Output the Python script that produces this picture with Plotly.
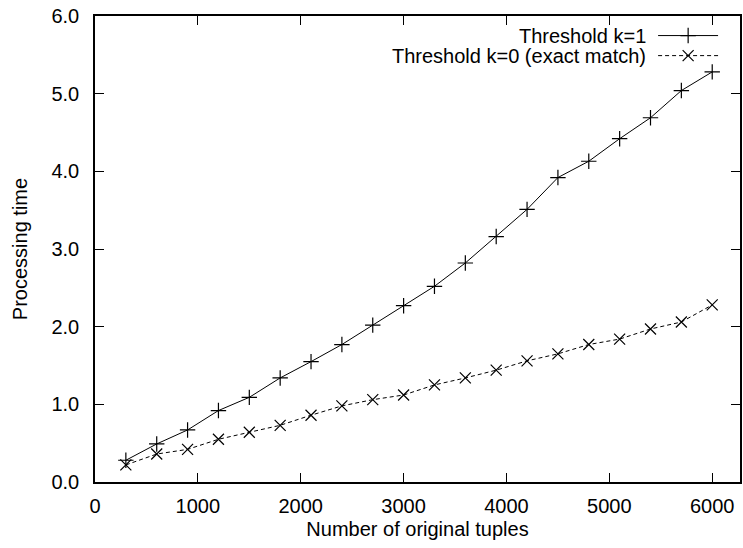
import plotly.graph_objects as go

# Data
tuples = [300, 600, 900, 1200, 1500, 1800, 2100, 2400, 2700, 3000,
          3300, 3600, 3900, 4200, 4500, 4800, 5100, 5400, 5700, 6000]
k1_time = [0.28, 0.49, 0.67, 0.92, 1.09, 1.34, 1.55, 1.77, 2.02, 2.27,
           2.52, 2.82, 3.16, 3.51, 3.92, 4.13, 4.42, 4.69, 5.04, 5.28]
k0_time = [0.22, 0.36, 0.42, 0.55, 0.64, 0.73, 0.86, 0.98, 1.06, 1.12,
           1.25, 1.34, 1.44, 1.56, 1.65, 1.77, 1.84, 1.97, 2.06, 2.28]
series_names = ["Threshold k=1", "Threshold k=0 (exact match)"]
x_ticks = [0, 1000, 2000, 3000, 4000, 5000, 6000]
y_ticks = [0, 1, 2, 3, 4, 5, 6]

FONT = "Liberation Sans, Arial, sans-serif"
FS = 20

fig = go.Figure()
fig.add_trace(go.Scatter(
    x=tuples, y=k1_time, mode="lines+markers", name=series_names[0],
    line=dict(color="black", width=1),
    marker=dict(symbol="cross-thin", size=11, line=dict(color="black", width=1.2)),
    showlegend=False))
fig.add_trace(go.Scatter(
    x=tuples, y=k0_time, mode="lines+markers", name=series_names[1],
    line=dict(color="black", width=1, dash="4px,3px"),
    marker=dict(symbol="x-thin", size=11, line=dict(color="black", width=1.2)),
    showlegend=False))

# Manual gnuplot-style legend (text right-aligned, sample on right)
leg_rows = [0.958, 0.915]
leg_dash = ["solid", "4px,3px"]
leg_sym = ["cross-thin", "x-thin"]
for name, yy, dash, sym in zip(series_names, leg_rows, leg_dash, leg_sym):
    fig.add_annotation(x=0.858, y=yy, xref="paper", yref="paper", text=name,
                       showarrow=False, xanchor="right", yanchor="middle",
                       font=dict(family=FONT, size=FS, color="black"))
    fig.add_shape(type="line", xref="paper", yref="paper", x0=0.873, x1=0.966,
                  y0=yy, y1=yy, line=dict(color="black", width=1, dash=dash))
    fig.add_trace(go.Scatter(x=[0.9196], y=[yy], xaxis="x2", yaxis="y2",
                             mode="markers", showlegend=False, hoverinfo="skip",
                             marker=dict(symbol=sym, size=11,
                                         line=dict(color="black", width=1.2))))

axis_common = dict(showgrid=False, zeroline=False, showline=True, mirror="ticks",
                   linecolor="black", linewidth=1.5, ticks="inside", ticklen=9,
                   tickwidth=1.2, tickcolor="black",
                   tickfont=dict(family=FONT, size=FS, color="black"))

fig.update_layout(
    width=743, height=548,
    margin=dict(l=95, r=1, t=16, b=66),
    plot_bgcolor="white", paper_bgcolor="white",
    font=dict(family=FONT, size=FS, color="black"),
    xaxis=dict(range=[0, 6270], tickvals=x_ticks, ticklabelstandoff=5,
               title=dict(text="Number of original tuples", standoff=6,
                          font=dict(family=FONT, size=FS)),
               **axis_common),
    yaxis=dict(range=[0, 6], tickvals=y_ticks, tickformat=".1f", ticklabelstandoff=10,
               title=dict(text="Processing time", standoff=18,
                          font=dict(family=FONT, size=FS)),
               **axis_common),
    xaxis2=dict(overlaying="x", range=[0, 1], visible=False, domain=[0, 1]),
    yaxis2=dict(overlaying="y", range=[0, 1], visible=False, domain=[0, 1]),
)

fig.write_html("out.html")
